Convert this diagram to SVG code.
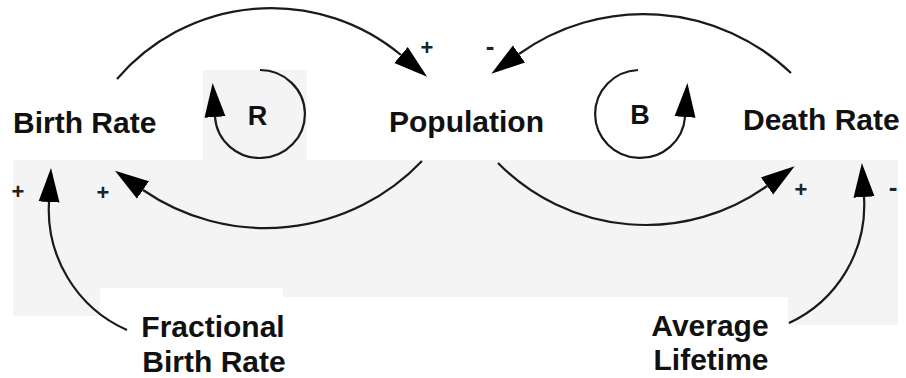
<svg xmlns="http://www.w3.org/2000/svg" width="906" height="378" viewBox="0 0 906 378">
  <style>
    .label { font-family: "Liberation Sans", Arial, sans-serif; font-weight: bold; font-size: 30px; fill: #111; }
    .loop { font-family: "Liberation Sans", Arial, sans-serif; font-weight: bold; font-size: 27px; fill: #111; text-anchor: middle; }
    .sign { font-family: "Liberation Sans", Arial, sans-serif; font-weight: bold; font-size: 22px; fill: #222; text-anchor: middle; }
    .minus { font-family: "Liberation Sans", Arial, sans-serif; font-weight: bold; font-size: 26px; fill: #222; text-anchor: middle; }
    .link { fill: none; stroke: #1a1a1a; stroke-width: 2.2; marker-end: url(#head); }
    .paper { fill: #f4f4f4; }
  </style>
  <defs>
    <marker id="head" markerUnits="userSpaceOnUse" viewBox="0 -12 36 24" refX="0" refY="0" markerWidth="36" markerHeight="24" orient="auto">
      <path d="M0,-10.5 L34,0 L0,10.5 Z" fill="#000"/>
    </marker>
  </defs>

  <rect width="906" height="378" fill="#fff"/>

  <!-- light backing panels -->
  <g id="backing">
    <rect class="paper" x="13" y="160" width="885" height="128"/>
    <rect class="paper" x="13" y="288" width="87" height="28"/>
    <rect class="paper" x="283" y="288" width="615" height="9"/>
    <rect class="paper" x="788" y="297" width="110" height="28"/>
    <rect class="paper" x="203" y="70" width="104" height="90"/>
  </g>

  <!-- causal links -->
  <g id="connectors">
    <path class="link" d="M117,79 A203,203 0 0 1 401,55"/>
    <path class="link" d="M791,73 A214,214 0 0 0 519,54"/>
    <path class="link" d="M422,161 A216,216 0 0 1 143,190"/>
    <path class="link" d="M498,163 A207.5,207.5 0 0 0 767,186"/>
    <path class="link" d="M127,330 A131.5,131.5 0 0 1 49,202"/>
    <path class="link" d="M789,323 A130,130 0 0 0 864,197"/>
  </g>

  <!-- link polarities -->
  <g id="polarities">
    <text class="sign" x="427" y="55">+</text>
    <text class="minus" x="490" y="55">-</text>
    <text class="sign" x="103" y="200">+</text>
    <text class="sign" x="18" y="199">+</text>
    <text class="sign" x="801" y="197">+</text>
    <text class="minus" x="893" y="196">-</text>
  </g>

  <!-- loop markers -->
  <g id="loop-R">
    <path class="link" d="M260,70 A45,44 0 1 1 215,117"/>
    <text class="loop" x="257.5" y="125">R</text>
  </g>
  <g id="loop-B">
    <path class="link" d="M638,70 A45,44 0 1 0 685,117"/>
    <text class="loop" x="640" y="124">B</text>
  </g>

  <!-- variables -->
  <g id="birth-rate"><text class="label" x="13" y="133">Birth Rate</text></g>
  <g id="population"><text class="label" x="466.5" y="132" text-anchor="middle">Population</text></g>
  <g id="death-rate"><text class="label" x="743" y="130">Death Rate</text></g>
  <g id="fractional-birth-rate">
    <text class="label" x="213" y="337" text-anchor="middle">Fractional</text>
    <text class="label" x="214" y="372" text-anchor="middle">Birth Rate</text>
  </g>
  <g id="average-lifetime">
    <text class="label" x="710" y="336" text-anchor="middle">Average</text>
    <text class="label" x="711" y="370" text-anchor="middle">Lifetime</text>
  </g>
</svg>
